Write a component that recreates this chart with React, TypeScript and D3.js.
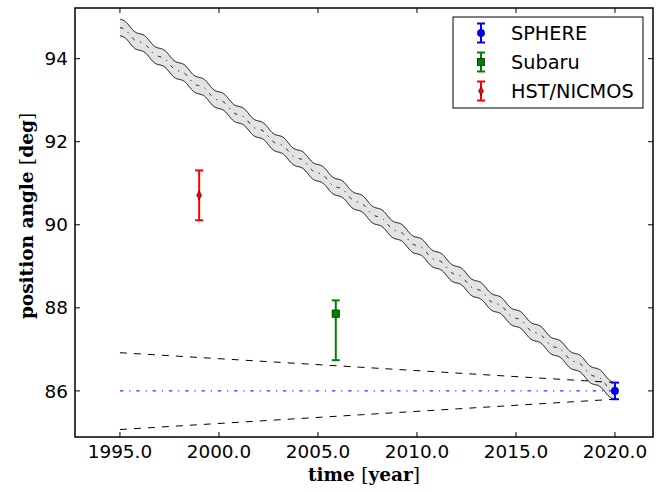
import React from 'react';
import * as d3 from 'd3';

// ---- data ----
const xTicks = [1995, 2000, 2005, 2010, 2015, 2020];
const yTicks = [86, 88, 90, 92, 94];

const obsNames = ['SPHERE', 'Subaru', 'HST/NICMOS'];
const obsYears = [2020.0, 2005.9, 1999.0];
const obsAngles = [86.0, 87.86, 90.71];
const obsErrLow = [0.2, 1.12, 0.6];
const obsErrHigh = [0.2, 0.32, 0.6];
const obsColors = ['#0000ff', '#008000', '#ff0000'];
const obsMarkers = ['circle', 'square', 'diamond'];

// predicted track (linear trend with annual parallax wiggle)
const bandYears = [1995, 2020];
const bandCenter = [94.75, 86.0];
const bandHalfWidth = 0.2;
const bandWiggleAmp = 0.04;

// dashed envelope
const envYears = [1995, 2020];
const envUpper = [86.92, 86.2];
const envLower = [85.07, 85.8];

// blue reference line
const refYears = [1995, 2020];
const refAngles = [86.0, 86.0];

const W = 665;
const H = 492;
const L = 75, R = 653, T = 8, B = 437;

const x = d3.scaleLinear().domain([1992.73, 2021.92]).range([L, R]);
const y = d3.scaleLinear().domain([84.89, 95.22]).range([B, T]);

const trend = d3.scaleLinear().domain(bandYears).range(bandCenter);
const bandT = d3.range(bandYears[0], bandYears[1] + 0.0001, 0.02);
const centerAt = (t: number) => trend(t) + bandWiggleAmp * Math.sin(2 * Math.PI * (t - bandYears[0]));

const area = d3.area<number>()
  .x((t) => x(t))
  .y0((t) => y(centerAt(t) - bandHalfWidth))
  .y1((t) => y(centerAt(t) + bandHalfWidth));
const lineUp = d3.line<number>().x((t) => x(t)).y((t) => y(centerAt(t) + bandHalfWidth));
const lineLo = d3.line<number>().x((t) => x(t)).y((t) => y(centerAt(t) - bandHalfWidth));
const lineMid = d3.line<number>().x((t) => x(t)).y((t) => y(centerAt(t)));
const seg = d3.line<[number, number]>().x((d) => x(d[0])).y((d) => y(d[1]));

const DASHDOT = '3.5,5.8,1.2,5.8';
const TICKFONT = '"DejaVu Sans", sans-serif';

function Marker({ kind, cx, cy, color }: { kind: string; cx: number; cy: number; color: string }) {
  if (kind === 'circle') return <circle cx={cx} cy={cy} r={3.8} fill={color} stroke="#000" strokeWidth={0.4} />;
  if (kind === 'square') return <rect x={cx - 3.7} y={cy - 3.7} width={7.4} height={7.4} fill={color} stroke="#000" strokeWidth={0.6} />;
  const d = `M${cx},${cy - 4.3} L${cx + 2.6},${cy} L${cx},${cy + 4.3} L${cx - 2.6},${cy} Z`;
  return <path d={d} fill={color} stroke="#000" strokeWidth={0.5} />;
}

function ErrBar({ cx, y1, y2, color }: { cx: number; y1: number; y2: number; color: string }) {
  return (
    <g stroke={color} strokeWidth={2}>
      <line x1={cx} x2={cx} y1={y1} y2={y2} />
      <line x1={cx - 4} x2={cx + 4} y1={y1} y2={y1} />
      <line x1={cx - 4} x2={cx + 4} y1={y2} y2={y2} />
    </g>
  );
}

export default function App() {
  const legX = 453, legY = 17, legW = 190, legH = 91;
  const rowY = [33, 62, 91];
  return (
    <div style={{ position: 'absolute', left: 0, top: 0 }}>
      <svg width={W} height={H} viewBox={`0 0 ${W} ${H}`} style={{ display: 'block', background: '#fff' }}>
        <rect x={0} y={0} width={W} height={H} fill="#fff" />
        <defs>
          <clipPath id="plotclip">
            <rect x={L} y={T} width={R - L} height={B - T} />
          </clipPath>
        </defs>
        <g clipPath="url(#plotclip)">
          <path d={area(bandT) || ''} fill="#e3e3e3" stroke="none" />
          <path d={lineUp(bandT) || ''} fill="none" stroke="#000" strokeWidth={1} />
          <path d={lineLo(bandT) || ''} fill="none" stroke="#000" strokeWidth={1} />
          <path d={lineMid(bandT) || ''} fill="none" stroke="#000" strokeWidth={1} strokeDasharray={DASHDOT} />
          <path d={seg(envYears.map((t, i) => [t, envUpper[i]] as [number, number])) || ''} fill="none" stroke="#000" strokeWidth={1} strokeDasharray="7,7" />
          <path d={seg(envYears.map((t, i) => [t, envLower[i]] as [number, number])) || ''} fill="none" stroke="#000" strokeWidth={1} strokeDasharray="7,7" />
          <path d={seg(refYears.map((t, i) => [t, refAngles[i]] as [number, number])) || ''} fill="none" stroke="#0000ff" strokeWidth={1} strokeDasharray={DASHDOT} />
          {obsNames.map((n, i) => (
            <g key={n}>
              <ErrBar cx={x(obsYears[i])} y1={y(obsAngles[i] + obsErrHigh[i])} y2={y(obsAngles[i] - obsErrLow[i])} color={obsColors[i]} />
              <Marker kind={obsMarkers[i]} cx={x(obsYears[i])} cy={y(obsAngles[i])} color={obsColors[i]} />
            </g>
          ))}
        </g>

        {/* frame */}
        <rect x={L} y={T} width={R - L} height={B - T} fill="none" stroke="#000" strokeWidth={1.5} />
        {/* ticks */}
        {xTicks.map((t) => (
          <g key={'xt' + t}>
            <line x1={x(t)} x2={x(t)} y1={B} y2={B - 5} stroke="#000" strokeWidth={1} />
            <line x1={x(t)} x2={x(t)} y1={T} y2={T + 5} stroke="#000" strokeWidth={1} />
            <text x={x(t)} y={458} textAnchor="middle" fontFamily={TICKFONT} fontSize={18.4} fill="#000">
              {d3.format('.1f')(t)}
            </text>
          </g>
        ))}
        {yTicks.map((v) => (
          <g key={'yt' + v}>
            <line x1={L} x2={L + 5} y1={y(v)} y2={y(v)} stroke="#000" strokeWidth={1} />
            <line x1={R} x2={R - 5} y1={y(v)} y2={y(v)} stroke="#000" strokeWidth={1} />
            <text x={68} y={y(v) + 6.6} textAnchor="end" fontFamily={TICKFONT} fontSize={18.4} fill="#000">
              {v}
            </text>
          </g>
        ))}

        {/* axis labels */}
        <text x={(L + R) / 2} y={481} textAnchor="middle" fontFamily='"DejaVu Serif", serif' fontSize={18.5} fill="#000">
          <tspan fontWeight="bold">time </tspan>
          <tspan fontWeight="normal">[</tspan>
          <tspan fontWeight="bold">year</tspan>
          <tspan fontWeight="normal">]</tspan>
        </text>
        <text transform={`translate(33,${216}) rotate(-90)`} textAnchor="middle" fontFamily='"DejaVu Serif", serif' fontSize={18.5} fill="#000">
          <tspan fontWeight="bold">position angle </tspan>
          <tspan fontWeight="normal">[</tspan>
          <tspan fontWeight="bold">deg</tspan>
          <tspan fontWeight="normal">]</tspan>
        </text>

        {/* legend */}
        <rect x={legX} y={legY} width={legW} height={legH} fill="#fff" stroke="#000" strokeWidth={1} />
        {obsNames.map((n, i) => (
          <g key={'lg' + n}>
            <ErrBar cx={481} y1={rowY[i] - 9.5} y2={rowY[i] + 9.5} color={obsColors[i]} />
            <Marker kind={obsMarkers[i]} cx={481} cy={rowY[i]} color={obsColors[i]} />
            <text x={511} y={rowY[i] + 7} fontFamily={TICKFONT} fontSize={19.3} fill="#000">{n}</text>
          </g>
        ))}
      </svg>
    </div>
  );
}
